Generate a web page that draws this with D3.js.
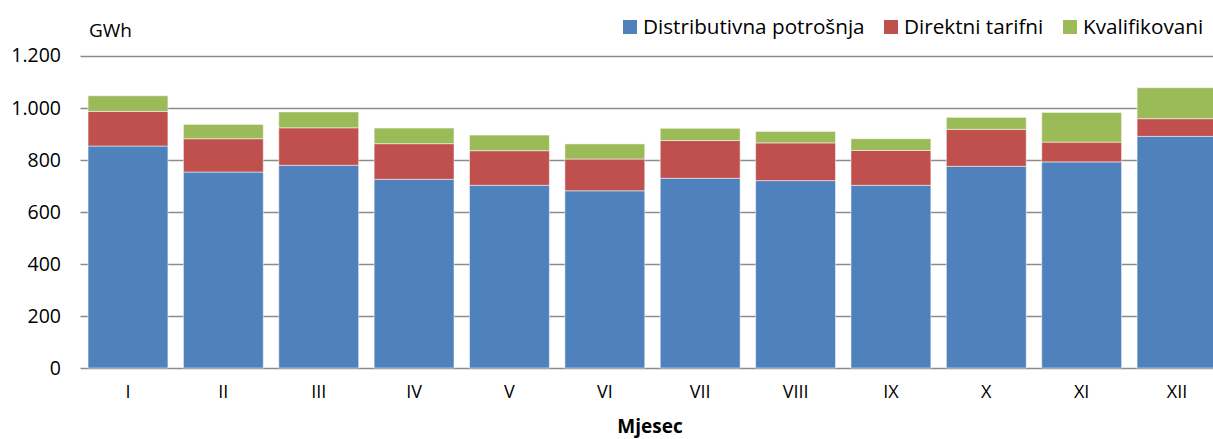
<!DOCTYPE html>
<html><head><meta charset="utf-8">
<script src="https://cdn.jsdelivr.net/npm/d3@7"></script>
<style>body{margin:0;background:#fff}svg{display:block}text{font-family:"Open Sans",sans-serif;fill:#000}</style>
</head><body><svg id="c" width="1213" height="439"></svg>
<script>
const months = ["I","II","III","IV","V","VI","VII","VIII","IX","X","XI","XII"];
const seriesNames = ["Distributivna potrošnja","Direktni tarifni","Kvalifikovani"];
const distributivna = [853,753,779,725,702,681,729,720,702,775,792,890];
const direktni = [133,128,144,137,133,122,145,145,134,142,76,68];
const kvalifikovani = [60,55,61,60,60,58,47,44,45,46,114,119];
const yTicks = [0,200,400,600,800,1000,1200];
const colors = ["#4F81BD","#C0504D","#9BBB59"];

const svg = d3.select("#c");
const rows = months.map((m,i)=>({m, s0:distributivna[i], s1:direktni[i], s2:kvalifikovani[i]}));
const stack = d3.stack().keys(["s0","s1","s2"])(rows);

const x = d3.scaleBand().domain(months).range([80.3,1224.7]).paddingInner(0.1625).paddingOuter(0.08125);
const y = d3.scaleLinear().domain([0,1200]).range([368,55.7]);
const fmt = v => d3.format(",")(v).replace(/,/g,".");
const FONT = "'Open Sans',sans-serif";

// gridlines
svg.append("g").selectAll("line").data(yTicks).join("line")
  .attr("x1",80.5).attr("x2",1213)
  .attr("y1",d=>Math.round(y(d))+0.5).attr("y2",d=>Math.round(y(d))+0.5)
  .attr("stroke","#8c8c8c").attr("stroke-width",1.3);

// bars
svg.append("g").selectAll("g").data(stack).join("g")
  .attr("fill",(d,i)=>colors[i])
  .selectAll("rect").data(d=>d).join("rect")
  .attr("x",d=>x(d.data.m)).attr("width",x.bandwidth())
  .attr("y",d=>y(d[1])).attr("height",d=>y(d[0])-y(d[1]))
  .attr("stroke","rgba(255,255,255,0.5)").attr("stroke-width",1);

// y labels
const yAxis = d3.axisLeft(y).tickValues(yTicks).tickFormat(fmt).tickSize(0).tickPadding(0);
const ya = svg.append("g").attr("transform","translate(61,0)").call(yAxis);
ya.select(".domain").remove();
ya.selectAll("text").attr("font-size",19.5).attr("font-family",FONT).attr("fill","#000");

// x labels
const xAxis = d3.axisBottom(x).tickSize(0).tickPadding(0);
const xa = svg.append("g").attr("transform","translate(0,385)").call(xAxis);
xa.select(".domain").remove();
xa.selectAll("text").attr("font-size",18).attr("font-family",FONT).attr("fill","#000");

svg.append("text").attr("x",89).attr("y",37).attr("font-size",19).text("GWh");
svg.append("text").attr("x",650).attr("y",433).attr("text-anchor","middle").attr("font-size",19).attr("font-weight","bold").text("Mjesec");

// legend
const legX = [623,884,1063];
const lg = svg.append("g").selectAll("g").data(seriesNames).join("g")
  .attr("transform",(d,i)=>`translate(${legX[i]},0)`);
lg.append("rect").attr("x",0).attr("y",20).attr("width",14).attr("height",14).attr("fill",(d,i)=>colors[i]);
lg.append("text").attr("x",20).attr("y",34).attr("font-size",20.7).text(d=>d);
</script></body></html>
